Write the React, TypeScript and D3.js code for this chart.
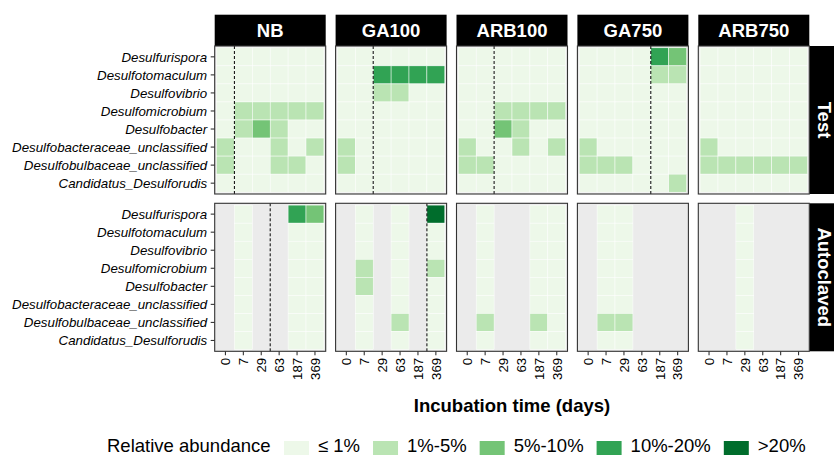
import * as d3 from 'd3';

const times = ['0', '7', '29', '63', '187', '369'];
const genera = [
  'Desulfurispora',
  'Desulfotomaculum',
  'Desulfovibrio',
  'Desulfomicrobium',
  'Desulfobacter',
  'Desulfobacteraceae_unclassified',
  'Desulfobulbaceae_unclassified',
  'Candidatus_Desulforudis',
];
const treatments = ['NB', 'GA100', 'ARB100', 'GA750', 'ARB750'];
const conditions = ['Test', 'Autoclaved'];
const classLabels = ['≤ 1%', '1%-5%', '5%-10%', '10%-20%', '>20%'];
const classColors = ['#edf8e9', '#bae4b3', '#74c476', '#31a354', '#006d2c'];

// abundance class per genus (rows) and time (columns); null = no sample
const _ = null;
const nbTest = [
  [0, 0, 0, 0, 0, 0],
  [0, 0, 0, 0, 0, 0],
  [0, 0, 0, 0, 0, 0],
  [0, 1, 1, 1, 1, 1],
  [0, 1, 2, 1, 0, 0],
  [1, 0, 0, 1, 0, 1],
  [1, 0, 0, 1, 1, 0],
  [0, 0, 0, 0, 0, 0],
];
const ga100Test = [
  [0, 0, 0, 0, 0, 0],
  [0, 0, 3, 3, 3, 3],
  [0, 0, 1, 1, 0, 0],
  [0, 0, 0, 0, 0, 0],
  [0, 0, 0, 0, 0, 0],
  [1, 0, 0, 0, 0, 0],
  [1, 0, 0, 0, 0, 0],
  [0, 0, 0, 0, 0, 0],
];
const arb100Test = [
  [0, 0, 0, 0, 0, 0],
  [0, 0, 0, 0, 0, 0],
  [0, 0, 0, 0, 0, 0],
  [0, 0, 1, 1, 1, 1],
  [0, 0, 2, 1, 0, 0],
  [1, 0, 0, 1, 0, 1],
  [1, 1, 0, 0, 0, 0],
  [0, 0, 0, 0, 0, 0],
];
const ga750Test = [
  [0, 0, 0, 0, 3, 2],
  [0, 0, 0, 0, 1, 1],
  [0, 0, 0, 0, 0, 0],
  [0, 0, 0, 0, 0, 0],
  [0, 0, 0, 0, 0, 0],
  [1, 0, 0, 0, 0, 0],
  [1, 1, 1, 0, 0, 0],
  [0, 0, 0, 0, 0, 1],
];
const arb750Test = [
  [0, 0, 0, 0, 0, 0],
  [0, 0, 0, 0, 0, 0],
  [0, 0, 0, 0, 0, 0],
  [0, 0, 0, 0, 0, 0],
  [0, 0, 0, 0, 0, 0],
  [1, 0, 0, 0, 0, 0],
  [1, 1, 1, 1, 1, 1],
  [0, 0, 0, 0, 0, 0],
];
const nbAuto = [
  [_, 0, _, _, 3, 2],
  [_, 0, _, _, 0, 0],
  [_, 0, _, _, 0, 0],
  [_, 0, _, _, 0, 0],
  [_, 0, _, _, 0, 0],
  [_, 0, _, _, 0, 0],
  [_, 0, _, _, 0, 0],
  [_, 0, _, _, 0, 0],
];
const ga100Auto = [
  [_, 0, _, 0, _, 4],
  [_, 0, _, 0, _, 0],
  [_, 0, _, 0, _, 0],
  [_, 1, _, 0, _, 1],
  [_, 1, _, 0, _, 0],
  [_, 0, _, 0, _, 0],
  [_, 0, _, 1, _, 0],
  [_, 0, _, 0, _, 0],
];
const arb100Auto = [
  [_, 0, _, _, 0, 0],
  [_, 0, _, _, 0, 0],
  [_, 0, _, _, 0, 0],
  [_, 0, _, _, 0, 0],
  [_, 0, _, _, 0, 0],
  [_, 0, _, _, 0, 0],
  [_, 1, _, _, 1, 0],
  [_, 0, _, _, 0, 0],
];
const ga750Auto = [
  [_, 0, 0, _, _, _],
  [_, 0, 0, _, _, _],
  [_, 0, 0, _, _, _],
  [_, 0, 0, _, _, _],
  [_, 0, 0, _, _, _],
  [_, 0, 0, _, _, _],
  [_, 1, 1, _, _, _],
  [_, 0, 0, _, _, _],
];
const arb750Auto = [
  [_, _, 0, _, _, _],
  [_, _, 0, _, _, _],
  [_, _, 0, _, _, _],
  [_, _, 0, _, _, _],
  [_, _, 0, _, _, _],
  [_, _, 0, _, _, _],
  [_, _, 0, _, _, _],
  [_, _, 0, _, _, _],
];
const matrices: Record<string, (number | null)[][]> = {
  'NB|Test': nbTest,
  'GA100|Test': ga100Test,
  'ARB100|Test': arb100Test,
  'GA750|Test': ga750Test,
  'ARB750|Test': arb750Test,
  'NB|Autoclaved': nbAuto,
  'GA100|Autoclaved': ga100Auto,
  'ARB100|Autoclaved': arb100Auto,
  'GA750|Autoclaved': ga750Auto,
  'ARB750|Autoclaved': arb750Auto,
};

// dashed line drawn just before this time point
const dividers = [
  { treatment: 'NB', condition: 'Test', before: '7' },
  { treatment: 'GA100', condition: 'Test', before: '29' },
  { treatment: 'ARB100', condition: 'Test', before: '29' },
  { treatment: 'GA750', condition: 'Test', before: '187' },
  { treatment: 'NB', condition: 'Autoclaved', before: '63' },
  { treatment: 'GA100', condition: 'Autoclaved', before: '369' },
];

const W = 834;
const H = 455;
const FONT = '"Liberation Sans", Arial, Helvetica, sans-serif';
const BIG = 18.5;
const SMALL = 13.3;

function textWidth(s: string, size: number) {
  const c = document.createElement('canvas').getContext('2d');
  if (!c) return s.length * size * 0.55;
  c.font = `${size}px ${FONT}`;
  return c.measureText(s).width;
}

export default function App() {
  const panelsLeft = 214.7;
  const panelsRight = 809.3;
  const stripTop = 14.7;
  const stripH = 31.3;
  const panelH = 148;
  const rowGap = 9.3;
  const rightStripW = 31.3;

  const px = d3
    .scaleBand<string>()
    .domain(treatments)
    .range([panelsLeft, panelsRight])
    .paddingInner(9.9 / 120.9)
    .paddingOuter(0);
  const panelW = px.bandwidth();

  const py = d3
    .scaleBand<string>()
    .domain(conditions)
    .range([stripTop + stripH, stripTop + stripH + 2 * panelH + rowGap])
    .paddingInner(rowGap / (panelH + rowGap))
    .paddingOuter(0);

  const x = d3.scaleBand<string>().domain(times).range([0, panelW]).paddingInner(0).paddingOuter(0.1);
  const y = d3.scaleBand<string>().domain(genera).range([0, panelH]).paddingInner(0).paddingOuter(0.1);

  const bottom = (py('Autoclaved') || 0) + panelH;

  // legend layout (bottom of legend runs past the picture edge, as in the original)
  const legendTop = 441;
  const legendBase = 452;
  const keySize = 25;
  let cursor = 284;
  const legendItems = classLabels.map((lab, i) => {
    const kx = cursor;
    const tx = kx + keySize + 9;
    cursor = tx + textWidth(lab, BIG) + 13;
    return { lab, kx, tx, color: classColors[i] };
  });

  return (
    <div style={{ position: 'absolute', left: 0, top: 0 }}>
      <svg width={W} height={H} style={{ display: 'block', background: '#fff' }} fontFamily={FONT}>
        {/* top strips */}
        {treatments.map((t) => (
          <g key={t} transform={`translate(${px(t)},${stripTop})`}>
            <rect width={panelW} height={stripH} fill="#000" />
            <text
              x={panelW / 2}
              y={stripH / 2}
              dy="0.36em"
              textAnchor="middle"
              fill="#fff"
              fontWeight="bold"
              fontSize={BIG}
            >
              {t}
            </text>
          </g>
        ))}

        {/* right strips */}
        {conditions.map((c) => (
          <g key={c} transform={`translate(${panelsRight},${py(c)})`}>
            <rect width={rightStripW} height={panelH} fill="#000" />
            <text
              transform={`translate(${rightStripW / 2},${panelH / 2}) rotate(90)`}
              dy="0.36em"
              textAnchor="middle"
              fill="#fff"
              fontWeight="bold"
              fontSize={BIG}
            >
              {c}
            </text>
          </g>
        ))}

        {/* panels */}
        {conditions.map((c) =>
          treatments.map((t) => {
            const m = matrices[`${t}|${c}`];
            const divs = dividers.filter((d) => d.treatment === t && d.condition === c);
            return (
              <g key={`${t}-${c}`} transform={`translate(${px(t)},${py(c)})`}>
                <rect width={panelW} height={panelH} fill="#ebebeb" />
                {genera.map((g, ri) =>
                  times.map((tm, ci) => {
                    const v = m[ri][ci];
                    if (v === null || v === undefined) return null;
                    return (
                      <rect
                        key={`${g}-${tm}`}
                        x={x(tm)}
                        y={y(g)}
                        width={x.bandwidth()}
                        height={y.bandwidth()}
                        fill={classColors[v]}
                        stroke="#fff"
                        strokeWidth={0.5}
                      />
                    );
                  })
                )}
                {divs.map((d) => (
                  <line
                    key={d.before}
                    x1={x(d.before)}
                    x2={x(d.before)}
                    y1={0}
                    y2={panelH}
                    stroke="#000"
                    strokeWidth={1}
                    strokeDasharray="3,2"
                  />
                ))}
                <rect width={panelW} height={panelH} fill="none" stroke="#333" strokeWidth={1.1} />
                {/* x ticks only under bottom row */}
                {c === 'Autoclaved' &&
                  times.map((tm) => {
                    const cx = (x(tm) || 0) + x.bandwidth() / 2;
                    return (
                      <g key={tm}>
                        <line x1={cx} x2={cx} y1={panelH} y2={panelH + 4} stroke="#333" strokeWidth={1.1} />
                        <text
                          transform={`translate(${cx},${panelH + 6.5}) rotate(-90)`}
                          dy="0.36em"
                          textAnchor="end"
                          fontSize={SMALL}
                          fill="#000"
                        >
                          {tm}
                        </text>
                      </g>
                    );
                  })}
                {/* y ticks only on first column */}
                {t === treatments[0] &&
                  genera.map((g) => {
                    const cy = (y(g) || 0) + y.bandwidth() / 2;
                    return (
                      <g key={g}>
                        <line x1={-4} x2={0} y1={cy} y2={cy} stroke="#333" strokeWidth={1.1} />
                        <text x={-7.5} y={cy} dy="0.36em" textAnchor="end" fontSize={SMALL} fontStyle="italic" fill="#000">
                          {g}
                        </text>
                      </g>
                    );
                  })}
              </g>
            );
          })
        )}

        {/* axis title */}
        <text
          x={(panelsLeft + panelsRight) / 2}
          y={bottom + 61}
          textAnchor="middle"
          fontWeight="bold"
          fontSize={BIG}
          fill="#000"
        >
          Incubation time (days)
        </text>

        {/* legend */}
        <text x={107} y={legendBase} fontSize={BIG} fill="#000">
          Relative abundance
        </text>
        {legendItems.map((it) => (
          <g key={it.lab}>
            <rect x={it.kx} y={legendTop} width={keySize} height={keySize} fill={it.color} />
            <text x={it.tx} y={legendBase} fontSize={BIG} fill="#000">
              {it.lab}
            </text>
          </g>
        ))}
      </svg>
    </div>
  );
}
